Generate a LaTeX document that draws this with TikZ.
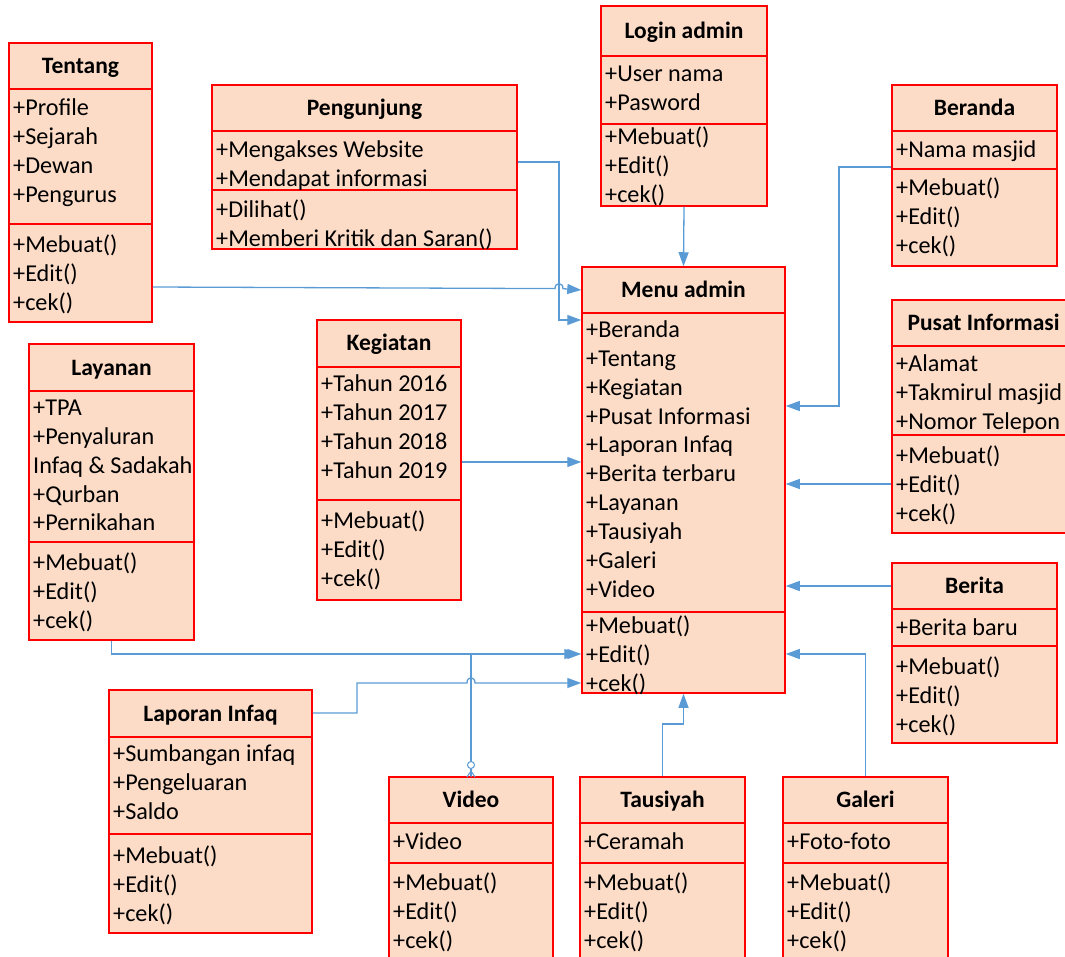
\documentclass[tikz,border=0pt]{standalone}
\usepackage{fontspec}
\setmainfont{Carlito}
\usetikzlibrary{arrows.meta,fit}
\definecolor{boxfill}{RGB}{252,219,199}
\definecolor{boxline}{RGB}{255,0,0}
\definecolor{connc}{RGB}{91,155,213}
\tikzset{
  clsbox/.style={draw=boxline, fill=boxfill, line width=1.5pt, inner sep=0pt},
  divline/.style={draw=boxline, line width=1.5pt},
  ttl/.style={font=\fontsize{23.5}{28}\selectfont\bfseries, anchor=base, inner sep=0pt},
  rowtxt/.style={font=\fontsize{24.2}{29}\selectfont, anchor=base west, inner sep=0pt},
  conn/.style={draw=connc, line width=1.3pt},
  arr/.style={conn, -{Triangle[length=14pt,width=10pt]}},
}
\newcommand\umlclass[8]{%
  \node[clsbox, fit={(#2,#3) (#4,#7)}] (#1) {};
  \draw[divline] (#2,#5) -- (#4,#5);
  \draw[divline] (#2,#6) -- (#4,#6);
  \node[ttl] (#1-t) at ({(#2+#4)/2},{(#3+#5)/2+7.5}) {#8};
}
\newcommand\umlrows[5]{%
  \foreach \t [count=\i] in {#5} \node[rowtxt] (#1-#4\i) at (#2+4, {#3+(\i-1)*28.85+7.5}) {\t};
}
\begin{document}
\begin{tikzpicture}[x=1pt,y=-1pt]
\useasboundingbox (0,0) rectangle (1065,957);
\clip (0,0) rectangle (1065,957);
% classes
\umlclass{tentang}{9}{43}{152}{89}{224}{322}{Tentang}
\umlrows{tentang}{9}{108}{a}{+Profile,+Sejarah,+Dewan,+Pengurus}
\umlrows{tentang}{9}{245}{m}{+Mebuat(),+Edit(),+cek()}

\umlclass{pengunjung}{212}{85}{517}{131}{190}{249}{Pengunjung}
\umlrows{pengunjung}{212}{150}{a}{+Mengakses Website,+Mendapat informasi}
\umlrows{pengunjung}{212}{210}{m}{+Dilihat(),+Memberi Kritik dan Saran()}

\umlclass{login}{601}{6}{767}{56}{124}{206}{Login admin}
\umlrows{login}{601}{74}{a}{+User nama,+Pasword}
\umlrows{login}{601}{137}{m}{+Mebuat(),+Edit(),+cek()}

\umlclass{beranda}{892}{85}{1057}{131}{169}{266}{Beranda}
\umlrows{beranda}{892}{150}{a}{+Nama masjid}
\umlrows{beranda}{892}{188}{m}{+Mebuat(),+Edit(),+cek()}

\umlclass{menu}{582}{267}{785}{313}{612}{693}{Menu admin}
\umlrows{menu}{582}{330}{a}{+Beranda,+Tentang,+Kegiatan,+Pusat Informasi,+Laporan Infaq,+Berita terbaru,+Layanan,+Tausiyah,+Galeri,+Video}
\umlrows{menu}{582}{626}{m}{+Mebuat(),+Edit(),+cek()}

\umlclass{pusat}{892}{300}{1075}{346}{435}{533}{Pusat Informasi}
\umlrows{pusat}{892}{364}{a}{+Alamat,+Takmirul masjid,+Nomor Telepon}
\umlrows{pusat}{892}{456}{m}{+Mebuat(),+Edit(),+cek()}

\umlclass{kegiatan}{317}{320}{461}{367}{500}{600}{Kegiatan}
\umlrows{kegiatan}{317}{384}{a}{+Tahun 2016,+Tahun 2017,+Tahun 2018,+Tahun 2019}
\umlrows{kegiatan}{317}{521}{m}{+Mebuat(),+Edit(),+cek()}

\umlclass{layanan}{29}{344}{194}{391}{542}{640}{Layanan}
\umlrows{layanan}{29}{408}{a}{+TPA,+Penyaluran,Infaq \& Sadakah,+Qurban,+Pernikahan}
\umlrows{layanan}{29}{563}{m}{+Mebuat(),+Edit(),+cek()}

\umlclass{berita}{892}{563}{1057}{609}{646}{743}{Berita}
\umlrows{berita}{892}{628}{a}{+Berita baru}
\umlrows{berita}{892}{667}{m}{+Mebuat(),+Edit(),+cek()}

\umlclass{laporan}{109}{690}{312}{737}{834}{933}{Laporan Infaq}
\umlrows{laporan}{109}{754}{a}{+Sumbangan infaq,+Pengeluaran,+Saldo}
\umlrows{laporan}{109}{856}{m}{+Mebuat(),+Edit(),+cek()}

\umlclass{video}{389}{777}{553}{823}{863}{975}{Video}
\umlrows{video}{389}{842}{a}{+Video}
\umlrows{video}{389}{883}{m}{+Mebuat(),+Edit(),+cek()}

\umlclass{tausiyah}{580}{777}{745}{823}{863}{975}{Tausiyah}
\umlrows{tausiyah}{580}{842}{a}{+Ceramah}
\umlrows{tausiyah}{580}{883}{m}{+Mebuat(),+Edit(),+cek()}

\umlclass{galeri}{783}{777}{948}{823}{863}{975}{Galeri}
\umlrows{galeri}{783}{842}{a}{+Foto-foto}
\umlrows{galeri}{783}{883}{m}{+Mebuat(),+Edit(),+cek()}

% connectors
\draw[arr] (tentang.east |- 0,287) -- (555,288.6) .. controls (555,282) and (563,282) .. (563,288.7) -- (menu.west |- 0,290);
\draw[arr] (pengunjung.east |- 0,162) -| (559,320) -- (menu.west |- 0,320);
\draw[arr] (login.south) -- (menu.north);
\draw[arr] (beranda.west |- 0,167) -| (839,406) -- (menu.east |- 0,406);
\draw[arr] (pusat.west |- 0,484) -- (menu.east |- 0,484);
\draw[arr] (berita.west |- 0,586) -- (menu.east |- 0,586);
\draw[arr] (galeri.north) |- (menu.east |- 0,654);
\draw[arr] (tausiyah.north) |- (menu.south |- 0,724) -- (menu.south);
\draw[arr] (kegiatan.east |- 0,462) -- (menu.west |- 0,462);
\draw[arr] (layanan.south) |- (menu.west |- 0,654);
\draw[arr] (laporan.east |- 0,713) -| (357,683) -- (467,683) .. controls (467,676) and (475,676) .. (475,683) -- (menu.west |- 0,683);
\draw[arr] (video.north) |- ([xshift=-3pt]menu.west |- 0,654);
\draw[conn, line width=1pt] (467,777) -- (471,771) -- (475,777) (471,771) -- (471,777);
\draw[conn, fill=white, line width=1pt] (471,765) circle[radius=3.5pt];
\end{tikzpicture}
\end{document}
